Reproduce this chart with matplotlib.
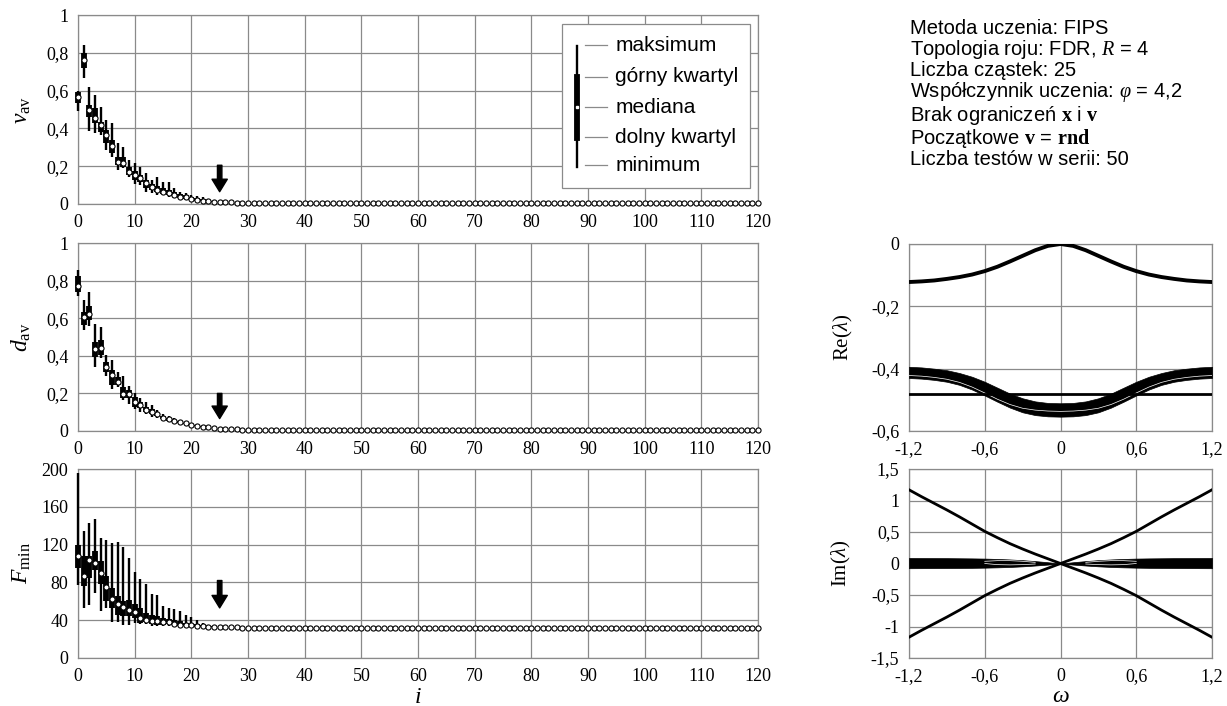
import numpy as np
import matplotlib
matplotlib.use('Agg')
import matplotlib.pyplot as plt
from matplotlib.patches import Rectangle
from matplotlib.lines import Line2D

plt.rcParams['font.family'] = ['Liberation Serif', 'DejaVu Serif']
plt.rcParams['mathtext.fontset'] = 'custom'
plt.rcParams['mathtext.rm'] = 'Liberation Serif'
plt.rcParams['mathtext.it'] = 'Liberation Serif:italic'
plt.rcParams['mathtext.bf'] = 'Liberation Serif:bold'

# ---------------- data: left panels (box statistics per iteration) ----------------
iterations = np.arange(121)

# v_av : spread for i = 0..24, median for all i
v_max = [0.600, 0.840, 0.617, 0.577, 0.515, 0.444, 0.430, 0.321, 0.303, 0.233, 0.219, 0.198, 0.162,
         0.127, 0.141, 0.118, 0.118, 0.083, 0.065, 0.060, 0.048, 0.042, 0.035, 0.026, 0.021]
v_q3 = [0.590, 0.800, 0.524, 0.506, 0.436, 0.392, 0.339, 0.250, 0.250, 0.198, 0.176, 0.153, 0.127,
        0.108, 0.095, 0.085, 0.075, 0.062, 0.052, 0.046, 0.036, 0.030, 0.025, 0.020, 0.016]
v_q1 = [0.536, 0.718, 0.459, 0.427, 0.383, 0.321, 0.268, 0.206, 0.198, 0.153, 0.127, 0.118, 0.083,
        0.075, 0.062, 0.055, 0.047, 0.040, 0.032, 0.028, 0.020, 0.017, 0.014, 0.012, 0.009]
v_min = [0.494, 0.665, 0.388, 0.374, 0.365, 0.286, 0.250, 0.180, 0.189, 0.145, 0.106, 0.100, 0.065,
         0.060, 0.050, 0.045, 0.038, 0.032, 0.025, 0.022, 0.015, 0.013, 0.011, 0.009, 0.007]
v_med = [0.568, 0.762, 0.497, 0.453, 0.418, 0.365, 0.307, 0.224, 0.215, 0.171,
         0.153, 0.136, 0.109, 0.092, 0.074, 0.065, 0.056, 0.048, 0.039, 0.035,
         0.025, 0.021, 0.018, 0.015, 0.012, 0.010, 0.009, 0.008, 0.007, 0.006,
         0.006, 0.005, 0.005, 0.005, 0.005, 0.005, 0.005, 0.005, 0.005, 0.005,
         0.005, 0.005, 0.005, 0.005, 0.005, 0.005, 0.005, 0.005, 0.005, 0.005,
         0.005, 0.005, 0.005, 0.005, 0.005, 0.005, 0.005, 0.005, 0.005, 0.005,
         0.005, 0.005, 0.005, 0.005, 0.005, 0.005, 0.005, 0.005, 0.005, 0.005,
         0.005, 0.005, 0.005, 0.005, 0.005, 0.005, 0.005, 0.005, 0.005, 0.005,
         0.005, 0.005, 0.005, 0.005, 0.005, 0.005, 0.005, 0.005, 0.005, 0.005,
         0.005, 0.005, 0.005, 0.005, 0.005, 0.005, 0.005, 0.005, 0.005, 0.005,
         0.005, 0.005, 0.005, 0.005, 0.005, 0.005, 0.005, 0.005, 0.005, 0.005,
         0.005, 0.005, 0.005, 0.005, 0.005, 0.005, 0.005, 0.005, 0.005, 0.005,
         0.005]

# d_av
d_max = [0.858, 0.698, 0.737, 0.569, 0.552, 0.404, 0.377, 0.315, 0.292, 0.238, 0.203, 0.173, 0.155,
         0.137, 0.110, 0.090, 0.080, 0.068, 0.058, 0.050, 0.042, 0.035, 0.030, 0.025, 0.021]
d_q3 = [0.822, 0.635, 0.665, 0.475, 0.484, 0.368, 0.324, 0.288, 0.235, 0.217, 0.181, 0.153, 0.130,
        0.115, 0.098, 0.080, 0.070, 0.060, 0.051, 0.044, 0.037, 0.031, 0.026, 0.022, 0.018]
d_q1 = [0.742, 0.564, 0.591, 0.395, 0.404, 0.315, 0.244, 0.244, 0.173, 0.173, 0.128, 0.120, 0.100,
        0.090, 0.080, 0.063, 0.055, 0.047, 0.041, 0.035, 0.029, 0.025, 0.020, 0.017, 0.014]
d_min = [0.719, 0.537, 0.559, 0.342, 0.386, 0.292, 0.226, 0.235, 0.164, 0.146, 0.119, 0.101, 0.089,
         0.075, 0.070, 0.056, 0.049, 0.042, 0.036, 0.031, 0.026, 0.022, 0.018, 0.015, 0.012]
d_med = [0.772, 0.609, 0.623, 0.434, 0.440, 0.342, 0.297, 0.262, 0.199, 0.199,
         0.155, 0.137, 0.114, 0.101, 0.089, 0.071, 0.062, 0.053, 0.046, 0.040,
         0.033, 0.028, 0.023, 0.019, 0.016, 0.013, 0.011, 0.009, 0.008, 0.007,
         0.006, 0.005, 0.005, 0.005, 0.005, 0.005, 0.005, 0.005, 0.005, 0.005,
         0.005, 0.005, 0.005, 0.005, 0.005, 0.005, 0.005, 0.005, 0.005, 0.005,
         0.005, 0.005, 0.005, 0.005, 0.005, 0.005, 0.005, 0.005, 0.005, 0.005,
         0.005, 0.005, 0.005, 0.005, 0.005, 0.005, 0.005, 0.005, 0.005, 0.005,
         0.005, 0.005, 0.005, 0.005, 0.005, 0.005, 0.005, 0.005, 0.005, 0.005,
         0.005, 0.005, 0.005, 0.005, 0.005, 0.005, 0.005, 0.005, 0.005, 0.005,
         0.005, 0.005, 0.005, 0.005, 0.005, 0.005, 0.005, 0.005, 0.005, 0.005,
         0.005, 0.005, 0.005, 0.005, 0.005, 0.005, 0.005, 0.005, 0.005, 0.005,
         0.005, 0.005, 0.005, 0.005, 0.005, 0.005, 0.005, 0.005, 0.005, 0.005,
         0.005]

# F_min
f_max = [195.8, 134.0, 142.8, 147.0, 127.0, 125.2, 121.7, 122.4, 117.5, 105.8, 90.6, 83.6, 78.7,
         68.0, 67.0, 55.4, 52.9, 51.8, 49.4, 45.9, 43.4, 40.0, 37.0, 35.0, 34.0]
f_q3 = [120.0, 107.6, 108.3, 112.9, 102.3, 86.4, 74.0, 66.0, 60.0, 61.0, 57.5, 52.9, 47.6,
        45.9, 44.0, 42.3, 41.0, 40.0, 39.0, 37.5, 36.5, 35.5, 35.0, 34.2, 33.8]
f_q1 = [95.2, 75.8, 84.7, 93.5, 78.7, 60.0, 52.9, 45.9, 44.8, 44.0, 42.3, 37.0, 37.7,
        36.0, 35.3, 35.3, 35.5, 34.5, 34.0, 33.8, 33.5, 33.3, 33.0, 32.8, 32.6]
f_min = [77.6, 52.9, 56.4, 68.8, 49.4, 52.9, 37.7, 37.7, 35.3, 35.3, 37.0, 36.3, 36.3,
         33.5, 34.2, 33.5, 33.5, 33.5, 32.8, 32.8, 32.6, 32.5, 32.4, 32.3, 32.2]
f_med = [107.6, 87.1, 103.3, 100.5, 89.9, 75.1, 62.4, 57.5, 54.0, 51.1,
         48.3, 42.0, 40.6, 38.8, 38.8, 37.7, 37.7, 36.3, 35.3, 35.0,
         34.5, 34.0, 33.5, 33.2, 33.0, 32.8, 32.6, 32.4, 32.3, 32.2,
         32.1, 32.0, 32.0, 32.0, 32.0, 32.0, 32.0, 32.0, 32.0, 32.0,
         32.0, 32.0, 32.0, 32.0, 32.0, 32.0, 32.0, 32.0, 32.0, 32.0,
         32.0, 32.0, 32.0, 32.0, 32.0, 32.0, 32.0, 32.0, 32.0, 32.0,
         32.0, 32.0, 32.0, 32.0, 32.0, 32.0, 32.0, 32.0, 32.0, 32.0,
         32.0, 32.0, 32.0, 32.0, 32.0, 32.0, 32.0, 32.0, 32.0, 32.0,
         32.0, 32.0, 32.0, 32.0, 32.0, 32.0, 32.0, 32.0, 32.0, 32.0,
         32.0, 32.0, 32.0, 32.0, 32.0, 32.0, 32.0, 32.0, 32.0, 32.0,
         32.0, 32.0, 32.0, 32.0, 32.0, 32.0, 32.0, 32.0, 32.0, 32.0,
         32.0, 32.0, 32.0, 32.0, 32.0, 32.0, 32.0, 32.0, 32.0, 32.0,
         32.0]

arrow_iteration = 25
v_arrow = (0.205, 0.065)
d_arrow = (0.200, 0.066)
f_arrow = (82.0, 53.0)

x_ticks_left = [0, 10, 20, 30, 40, 50, 60, 70, 80, 90, 100, 110, 120]
x_ticklabels_left = ['0', '10', '20', '30', '40', '50', '60', '70', '80', '90', '100', '110', '120']
unit_ticks = [0, 0.2, 0.4, 0.6, 0.8, 1.0]
unit_ticklabels = ['0', '0,2', '0,4', '0,6', '0,8', '1']
f_ticks = [0, 40, 80, 120, 160, 200]
f_ticklabels = ['0', '40', '80', '120', '160', '200']

legend_labels = ['maksimum', 'górny kwartyl', 'mediana', 'dolny kwartyl', 'minimum']

# ---------------- data: right panels (eigenvalue curves) ----------------
omega = [-1.2, -1.1, -1.0, -0.9, -0.8, -0.7, -0.6, -0.5, -0.4, -0.3, -0.2, -0.1, 0.0,
         0.1, 0.2, 0.3, 0.4, 0.5, 0.6, 0.7, 0.8, 0.9, 1.0, 1.1, 1.2]
re_top = [-0.122, -0.120, -0.117, -0.112, -0.106, -0.098, -0.087, -0.073, -0.056, -0.038, -0.020, -0.006, 0.0,
          -0.006, -0.020, -0.038, -0.056, -0.073, -0.087, -0.098, -0.106, -0.112, -0.117, -0.120, -0.122]
re_band_top = [-0.394, -0.396, -0.400, -0.405, -0.414, -0.426, -0.442, -0.461, -0.480, -0.495, -0.505, -0.510, -0.511,
               -0.510, -0.505, -0.495, -0.480, -0.461, -0.442, -0.426, -0.414, -0.405, -0.400, -0.396, -0.394]
re_band_bot = [-0.430, -0.432, -0.436, -0.442, -0.452, -0.467, -0.486, -0.506, -0.525, -0.540, -0.549, -0.553, -0.554,
               -0.553, -0.549, -0.540, -0.525, -0.506, -0.486, -0.467, -0.452, -0.442, -0.436, -0.432, -0.430]
re_gap = [-0.422, -0.424, -0.428, -0.434, -0.444, -0.459, -0.478, -0.498, -0.515, -0.527, -0.533, -0.536, -0.537,
          -0.536, -0.533, -0.527, -0.515, -0.498, -0.478, -0.459, -0.444, -0.434, -0.428, -0.424, -0.422]
re_flat = -0.481

im_line_a = [1.17, 1.06, 0.955, 0.85, 0.74, 0.625, 0.51, 0.41, 0.315, 0.23, 0.15, 0.075, 0.0,
             -0.075, -0.15, -0.23, -0.315, -0.41, -0.51, -0.625, -0.74, -0.85, -0.955, -1.06, -1.17]
im_line_b = [-1.17, -1.06, -0.955, -0.85, -0.74, -0.625, -0.51, -0.41, -0.315, -0.23, -0.15, -0.075, 0.0,
             0.075, 0.15, 0.23, 0.315, 0.41, 0.51, 0.625, 0.74, 0.85, 0.955, 1.06, 1.17]
im_band_hi = [0.088, 0.087, 0.086, 0.085, 0.083, 0.081, 0.078, 0.072, 0.064, 0.053, 0.038, 0.020, 0.0,
              0.020, 0.038, 0.053, 0.064, 0.072, 0.078, 0.081, 0.083, 0.085, 0.086, 0.087, 0.088]
im_band_lo = [-0.075, -0.074, -0.073, -0.072, -0.071, -0.069, -0.066, -0.061, -0.055, -0.045, -0.032, -0.017, 0.0,
              -0.017, -0.032, -0.045, -0.055, -0.061, -0.066, -0.069, -0.071, -0.072, -0.073, -0.074, -0.075]
lens_omega_left = [-0.6, -0.5, -0.4, -0.3, -0.2]
lens_omega_right = [0.2, 0.3, 0.4, 0.5, 0.6]
lens_hi_left = [0.035, 0.045, 0.045, 0.035, 0.018]
lens_lo_left = [0.000, -0.018, -0.022, -0.018, -0.008]
lens_hi_right = [0.018, 0.035, 0.045, 0.045, 0.035]
lens_lo_right = [-0.008, -0.018, -0.022, -0.018, 0.000]

omega_ticks = [-1.2, -0.6, 0.0, 0.6, 1.2]
omega_ticklabels = ['-1,2', '-0,6', '0', '0,6', '1,2']
re_ticks = [-0.6, -0.4, -0.2, 0.0]
re_ticklabels = ['-0,6', '-0,4', '-0,2', '0']
im_ticks = [-1.5, -1.0, -0.5, 0.0, 0.5, 1.0, 1.5]
im_ticklabels = ['-1,5', '-1', '-0,5', '0', '0,5', '1', '1,5']

info_lines = [
    'Metoda uczenia: FIPS',
    'Topologia roju: FDR, $R$ = 4',
    'Liczba cząstek: 25',
    'Współczynnik uczenia: $\\varphi$ = 4,2',
    'Brak ograniczeń $\\mathbf{x}$ i $\\mathbf{v}$',
    'Początkowe $\\mathbf{v}$ = $\\mathbf{rnd}$',
    'Liczba testów w serii: 50',
]

# ---------------- figure ----------------
W, H = 1227, 706
fig = plt.figure(figsize=(W / 100, H / 100), dpi=100)
GRID = '#8a8a8a'
TICK_FS = 13
SANS = ['Liberation Sans', 'DejaVu Sans']


def px_axes(x0, y_top, x1, y_bot):
    return fig.add_axes([x0 / W, 1 - y_bot / H, (x1 - x0) / W, (y_bot - y_top) / H])


def style(ax):
    ax.grid(True, color=GRID, lw=0.9)
    ax.set_axisbelow(True)
    for s in ax.spines.values():
        s.set_color(GRID)
        s.set_linewidth(0.9)
    ax.tick_params(length=0, labelsize=TICK_FS, pad=7)


ax_v = px_axes(78, 15, 758, 204)
ax_d = px_axes(78, 243, 758, 431)
ax_f = px_axes(78, 469, 758, 658)
ax_re = px_axes(909, 244, 1212, 431)
ax_im = px_axes(909, 469, 1212, 658)


def draw_boxes(ax, med, mn, q1, q3, mx):
    n = len(mn)
    ax.vlines(iterations[:n], mn, mx, color='k', lw=1.7, zorder=3, clip_on=False)
    ax.vlines(iterations[:n], q1, q3, color='k', lw=4.2, zorder=3, clip_on=False)
    ax.plot(iterations, med, linestyle='none', marker='o', ms=3.7, mfc='white', mec='k',
            mew=0.8, zorder=4, clip_on=False)


def arrow(ax, ends):
    ax.annotate('', xy=(arrow_iteration, ends[1]), xytext=(arrow_iteration, ends[0]),
                arrowprops=dict(facecolor='k', edgecolor='k', width=3.2, headwidth=11,
                                headlength=9, shrink=0), zorder=5)


for ax, data, ends, yt, ytl, ylim, lab in [
        (ax_v, (v_med, v_min, v_q1, v_q3, v_max), v_arrow, unit_ticks, unit_ticklabels, (0, 1),
         r'$v_{\mathrm{av}}$'),
        (ax_d, (d_med, d_min, d_q1, d_q3, d_max), d_arrow, unit_ticks, unit_ticklabels, (0, 1),
         r'$d_{\mathrm{av}}$'),
        (ax_f, (f_med, f_min, f_q1, f_q3, f_max), f_arrow, f_ticks, f_ticklabels, (0, 200),
         r'$F_{\mathrm{min}}$')]:
    style(ax)
    draw_boxes(ax, *data)
    arrow(ax, ends)
    ax.set_xlim(0, 120)
    ax.set_ylim(*ylim)
    ax.set_xticks(x_ticks_left)
    ax.set_xticklabels(x_ticklabels_left)
    ax.set_yticks(yt)
    ax.set_yticklabels(ytl)
    ax.set_ylabel(lab, fontsize=17)
    ax.yaxis.set_label_coords(-0.066, 0.5)

ax_f.set_xlabel(r'$i$', fontsize=17)
ax_f.xaxis.set_label_coords(0.5, -0.155)

# legend box (drawn manually)
ax_v.add_patch(Rectangle((0.712, 0.085), 0.276, 0.867, transform=ax_v.transAxes,
                         facecolor='white', edgecolor=GRID, lw=0.9, zorder=6))
ax_v.add_line(Line2D([0.734, 0.734], [0.196, 0.836], transform=ax_v.transAxes,
                     color='k', lw=1.7, zorder=7))
ax_v.add_line(Line2D([0.734, 0.734], [0.349, 0.672], transform=ax_v.transAxes,
                     color='k', lw=4.2, zorder=7))
ax_v.plot([0.734], [0.513], transform=ax_v.transAxes, marker='s', ms=1.6, color='white',
          zorder=8)
for yy, lbl in zip([0.841, 0.672, 0.513, 0.354, 0.206], legend_labels):
    ax_v.add_line(Line2D([0.746, 0.778], [yy, yy], transform=ax_v.transAxes,
                         color=GRID, lw=0.9, zorder=7))
    ax_v.text(0.790, yy, lbl, transform=ax_v.transAxes, va='center', ha='left',
              fontsize=15, family=SANS, zorder=8)

# ---------------- right panels ----------------
style(ax_re)
ax_re.plot(omega, re_top, color='k', lw=2.8, zorder=3)
ax_re.fill_between(omega, re_band_top, re_band_bot, color='k', lw=0.5, zorder=3)
ax_re.plot(omega, re_gap, color='white', lw=0.5, zorder=4)
ax_re.axhline(re_flat, color='k', lw=2.0, zorder=4)
ax_re.set_xlim(-1.2, 1.2)
ax_re.set_ylim(-0.6, 0.0)
ax_re.set_xticks(omega_ticks)
ax_re.set_xticklabels(omega_ticklabels)
ax_re.set_yticks(re_ticks)
ax_re.set_yticklabels(re_ticklabels)
ax_re.set_ylabel(r'$\mathrm{Re}(\lambda)$', fontsize=15)
ax_re.yaxis.set_label_coords(-0.178, 0.5)

style(ax_im)
ax_im.fill_between(omega, im_band_hi, im_band_lo, color='k', lw=0.5, zorder=3)
ax_im.plot(lens_omega_left, lens_hi_left, color='white', lw=0.5, zorder=4)
ax_im.plot(lens_omega_left, lens_lo_left, color='white', lw=0.5, zorder=4)
ax_im.plot(lens_omega_right, lens_hi_right, color='white', lw=0.5, zorder=4)
ax_im.plot(lens_omega_right, lens_lo_right, color='white', lw=0.5, zorder=4)
ax_im.plot(omega, im_line_a, color='k', lw=2.0, zorder=5)
ax_im.plot(omega, im_line_b, color='k', lw=2.0, zorder=5)
ax_im.set_xlim(-1.2, 1.2)
ax_im.set_ylim(-1.5, 1.5)
ax_im.set_xticks(omega_ticks)
ax_im.set_xticklabels(omega_ticklabels)
ax_im.set_yticks(im_ticks)
ax_im.set_yticklabels(im_ticklabels)
ax_im.set_ylabel(r'$\mathrm{Im}(\lambda)$', fontsize=15)
ax_im.yaxis.set_label_coords(-0.185, 0.5)
ax_im.set_xlabel(r'$\omega$', fontsize=17)
ax_im.xaxis.set_label_coords(0.5, -0.15)

# info text block (one multi-line text, tight line pitch as in the reference)
fig.text(910 / W, 1 - 19 / H, '\n'.join(info_lines), ha='left', va='top', fontsize=14.5,
         family=SANS, linespacing=1.0)

fig.savefig('out.png', dpi=100)
